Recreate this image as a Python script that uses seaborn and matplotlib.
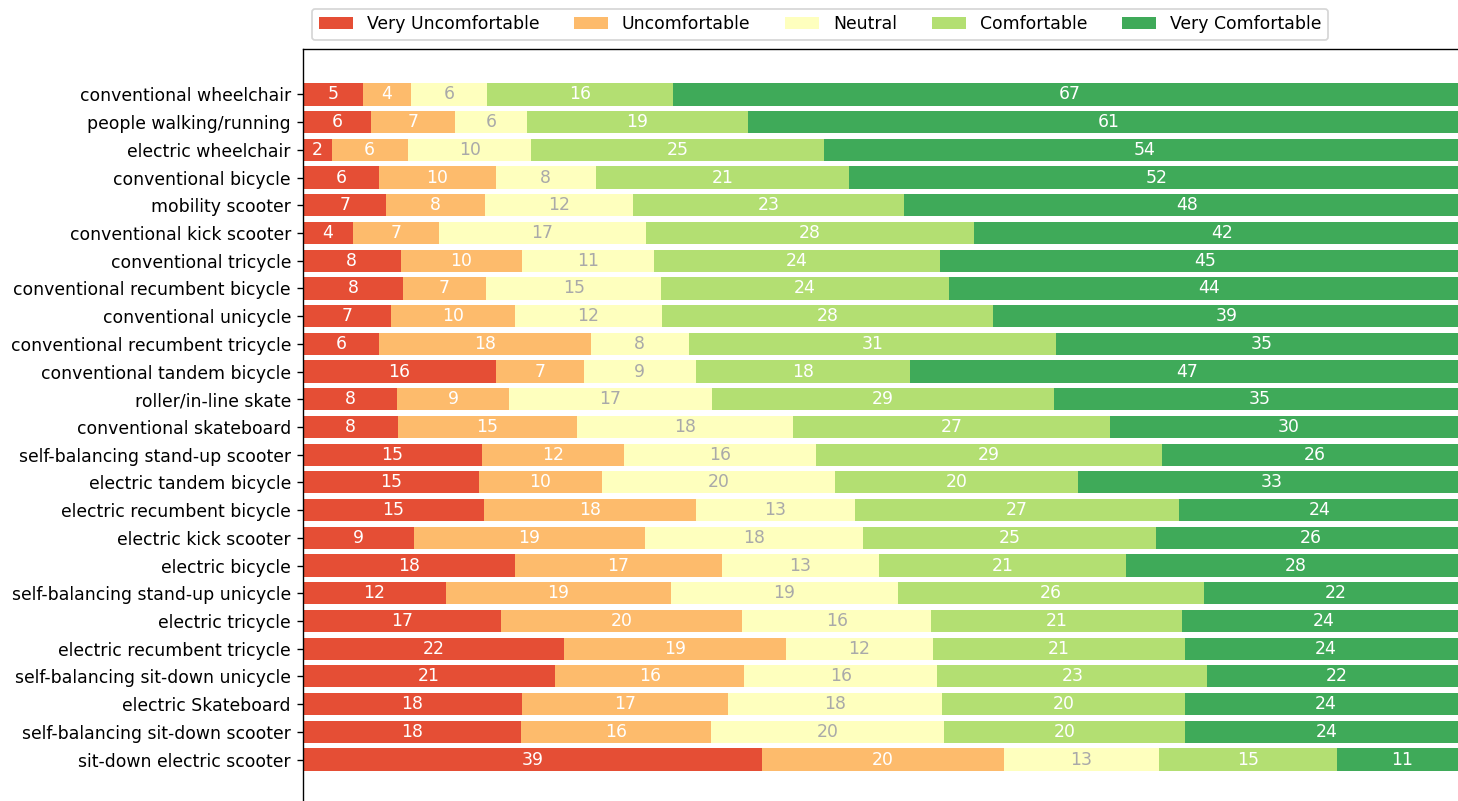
import numpy as np
import matplotlib.pyplot as plt
import seaborn as sns
from matplotlib.patches import Patch

responses = ['Very Uncomfortable', 'Uncomfortable', 'Neutral', 'Comfortable', 'Very Comfortable']

vehicles = [
    'conventional wheelchair', 'people walking/running', 'electric wheelchair',
    'conventional bicycle', 'mobility scooter', 'conventional kick scooter',
    'conventional tricycle', 'conventional recumbent bicycle', 'conventional unicycle',
    'conventional recumbent tricycle', 'conventional tandem bicycle', 'roller/in-line skate',
    'conventional skateboard', 'self-balancing stand-up scooter', 'electric tandem bicycle',
    'electric recumbent bicycle', 'electric kick scooter', 'electric bicycle',
    'self-balancing stand-up unicycle', 'electric tricycle', 'electric recumbent tricycle',
    'self-balancing sit-down unicycle', 'electric Skateboard', 'self-balancing sit-down scooter',
    'sit-down electric scooter',
]

# percentages, one list per answer
very_uncomfortable = [5.0, 5.7, 2.4, 6.4, 7.0, 4.2, 8.2, 8.4, 7.4, 6.4, 16.2, 7.9, 8.0,
                      15.0, 14.8, 15.2, 9.3, 17.8, 12.0, 16.6, 21.9, 21.2, 18.4, 18.3, 38.6]
uncomfortable = [4.1, 7.1, 6.4, 9.8, 8.3, 7.2, 10.2, 7.0, 10.4, 17.8, 7.4, 9.4, 15.0,
                 12.0, 10.3, 17.8, 19.4, 17.4, 18.9, 20.3, 18.7, 15.9, 17.3, 16.0, 20.3]
neutral = [6.4, 6.0, 10.4, 8.4, 12.4, 17.4, 11.1, 14.7, 12.4, 8.2, 9.4, 17.1, 18.2,
           16.1, 19.6, 13.4, 18.4, 13.2, 19.1, 15.9, 12.3, 16.2, 18.0, 19.6, 13.0]
comfortable = [15.6, 18.6, 24.6, 21.3, 22.8, 27.6, 24.0, 24.2, 27.8, 30.9, 18.0, 28.7, 26.6,
               29.1, 20.4, 27.2, 24.6, 20.8, 25.7, 21.1, 21.2, 22.7, 20.4, 20.2, 15.0]
very_comfortable = [66.6, 60.6, 53.9, 51.6, 47.6, 41.6, 44.6, 43.6, 39.3, 34.6, 46.6, 34.6, 30.0,
                    25.6, 32.6, 23.7, 25.9, 28.4, 22.1, 23.8, 23.6, 21.7, 23.6, 23.8, 11.0]


def main():
    cmap = plt.colormaps['RdYlGn']
    colors = [cmap(v)[:3] for v in np.linspace(0.15, 0.85, len(responses))]
    data = np.array([very_uncomfortable, uncomfortable, neutral,
                     comfortable, very_comfortable]).T
    cum = data.cumsum(axis=1)
    starts = cum - data

    fig = plt.figure(figsize=(1458 / 124, 801 / 124), dpi=124)
    ax = fig.add_axes([303 / 1458, 1 - 841 / 801, 1190 / 1458, 792 / 801])

    # stacked look: draw the cumulative totals from longest to shortest
    for k in range(len(responses) - 1, -1, -1):
        sns.barplot(x=cum[:, k], y=vehicles, orient='h', color=colors[k],
                    saturation=1, width=0.8, errorbar=None, ax=ax)

    for i in range(len(vehicles)):
        for k in range(len(responses)):
            r, g, b = colors[k]
            text_color = 'white' if r * g * b < 0.5 else 'darkgrey'
            ax.text(starts[i, k] + data[i, k] / 2, i, f'{data[i, k]:.0f}',
                    ha='center', va='center', color=text_color)

    ax.set_xlim(0, 100)
    ax.set_ylim(26.94, -1.64)
    ax.xaxis.set_visible(False)
    ax.set_ylabel('')

    handles = [Patch(facecolor=c, label=r) for c, r in zip(colors, responses)]
    ax.legend(handles=handles, ncol=len(responses), bbox_to_anchor=(0, 1), loc='lower left')

    fig.savefig('out.png', dpi=124)


if __name__ == "__main__":
    main()
